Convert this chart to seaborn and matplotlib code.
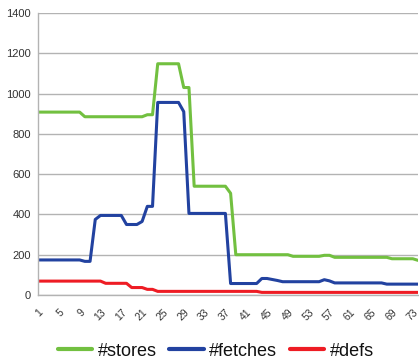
import pandas as pd
import matplotlib
matplotlib.use("Agg")
import matplotlib.pyplot as plt
import seaborn as sns

# Per-step counts
stores = [908, 908, 908, 908, 908, 908, 908, 908, 908,
          885, 885, 885, 885, 885, 885, 885, 885, 885, 885, 885, 885,
          895, 895,
          1148, 1148, 1148, 1148, 1148,
          1030, 1030,
          540, 540, 540, 540, 540, 540, 540,
          505,
          200, 200, 200, 200, 200, 200, 200, 200, 200, 200, 200,
          192, 192, 192, 192, 192, 192,
          197, 197,
          187, 187, 187, 187, 187, 187, 187, 187, 187, 187, 187,
          180, 180, 180, 180, 180,
          172]
fetches = [174, 174, 174, 174, 174, 174, 174, 174, 174,
           167, 167,
           375,
           395, 395, 395, 395, 395,
           350, 350, 350,
           365,
           440, 440,
           956, 956, 956, 956, 956,
           910,
           405, 405, 405, 405, 405, 405, 405, 405,
           57, 57, 57, 57, 57, 57,
           82, 82, 77, 72,
           66, 66, 66, 66, 66, 66, 66, 66,
           76, 70,
           60, 60, 60, 60, 60, 60, 60, 60, 60, 60,
           54, 54, 54, 54, 54, 54, 54]
defs = [69, 69, 69, 69, 69, 69, 69, 69, 69, 69, 69, 69, 69,
        58, 58, 58, 58, 58,
        37, 37, 37,
        28, 28,
        18, 18, 18, 18, 18, 18, 18, 18, 18, 18, 18, 18, 18, 18, 18, 18, 18, 18, 18, 18,
        13, 13, 13, 13, 13, 13, 13, 13, 13, 13, 13, 13, 13, 13, 13, 13, 13, 13, 13, 13,
        13, 13, 13, 13, 13, 13, 13, 13, 13, 13, 13]
steps = list(range(1, len(stores) + 1))

series_names = ["#stores", "#fetches", "#defs"]
series_colors = ["#72c040", "#2242a0", "#ee1c24"]

df = pd.DataFrame({
    "step": steps * 3,
    "value": stores + fetches + defs,
    "series": [series_names[0]] * len(steps) + [series_names[1]] * len(steps) + [series_names[2]] * len(steps),
})

sns.set_style("white")
plt.rcParams["font.family"] = ["Liberation Sans", "DejaVu Sans"]

fig = plt.figure(figsize=(4.19, 3.6), dpi=100)
ax = fig.add_axes([38 / 419, 1 - 295 / 360, 380 / 419, 282 / 360])

sns.lineplot(data=df, x="step", y="value", hue="series", palette=series_colors,
             linewidth=2.2, ax=ax, legend=False)

ax.set_xlim(1, len(steps))
ax.set_ylim(0, 1400)
ax.set_yticks(range(0, 1401, 200))
ax.tick_params(axis="y", labelsize=8, length=3, pad=2)
ax.set_xticks(steps)
ax.set_xticklabels([str(s) if (s - 1) % 4 == 0 else "" for s in steps],
                   rotation=45, ha="right", rotation_mode="anchor", fontsize=7.5)
ax.tick_params(axis="x", length=4, pad=5)
ax.tick_params(axis="both", which="both", color="#b3b3b3")
for lbl in ax.get_xticklabels() + ax.get_yticklabels():
    lbl.set_color("#333333")

ax.grid(axis="y", color="#b3b3b3", linewidth=1.0)
ax.set_axisbelow(True)
for side in ["top", "right"]:
    ax.spines[side].set_visible(False)
for side in ["left", "bottom"]:
    ax.spines[side].set_color("#b3b3b3")
    ax.spines[side].set_linewidth(1.0)
ax.set_xlabel("")
ax.set_ylabel("")

handles = [plt.Line2D([], [], color=c, linewidth=3) for c in series_colors]
leg = fig.legend(handles, series_names, loc="center", bbox_to_anchor=(0.515, 1 - 351 / 360),
                 ncol=3, frameon=False, fontsize=13, handlelength=1.9, handletextpad=0.3,
                 columnspacing=0.7, borderpad=0)
for t in leg.get_texts():
    t.set_color("#111111")

fig.savefig("out.png", dpi=100)
